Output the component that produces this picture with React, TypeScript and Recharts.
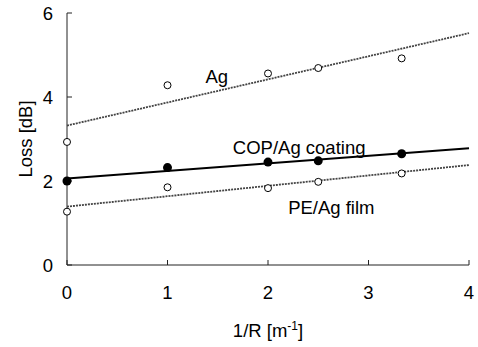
import React from 'react';
import {
  ScatterChart,
  Scatter,
  XAxis,
  YAxis,
  ReferenceDot,
  Label
} from 'recharts';

// measured points, 1/R [m^-1]
const xVals = [0, 1, 2, 2.5, 3.33];
const agLoss = [2.93, 4.28, 4.56, 4.69, 4.92];
const copLoss = [2.0, 2.32, 2.45, 2.48, 2.65];
const peLoss = [1.27, 1.85, 1.83, 1.98, 2.18];

// fitted lines (end points)
const fitX = [0, 4];
const agFit = [3.32, 5.52];
const copFit = [2.06, 2.78];
const peFit = [1.39, 2.38];

const xTicks = [0, 1, 2, 3, 4];
const yTicks = [0, 2, 4, 6];

const toPts = (xs: number[], ys: number[]) => xs.map((x, i) => ({ x, y: ys[i] }));

const FONT = 'Liberation Sans, Arial, sans-serif';
const AXIS = '#222';
const FS = 18.5;

const OpenDot = (props: any) => (
  <circle cx={props.cx} cy={props.cy} r={3.5} fill="#fff" stroke="#000" strokeWidth={1} />
);
const FilledDot = (props: any) => (
  <circle cx={props.cx} cy={props.cy} r={4.5} fill="#000" stroke="none" />
);
const NoDot = () => <g />;

const XTitle = (props: any) => {
  const { viewBox } = props;
  const cx = viewBox.x + viewBox.width / 2;
  return (
    <text x={cx} y={337} textAnchor="middle" fontFamily={FONT} fontSize={FS} fill="#000">
      1/R [m<tspan dy={-7} fontSize={12}>-1</tspan><tspan dy={7}>]</tspan>
    </text>
  );
};

const fitStyle = { stroke: '#444', strokeWidth: 1.8, strokeDasharray: '2 1' };

export default function App() {
  const tickStyle = { fontFamily: FONT, fontSize: FS, fill: '#000' };
  const noteStyle = { fontFamily: FONT, fontSize: FS, fill: '#000' };
  return (
    <div style={{ position: 'absolute', left: 0, top: 0, background: '#fff' }}>
      <ScatterChart width={478} height={347} margin={{ top: 13, right: 9, bottom: 0, left: 0 }}>
        <XAxis
          xAxisId="b"
          type="number"
          dataKey="x"
          domain={[0, 4]}
          ticks={xTicks}
          height={82}
          tickSize={-5}
          tickMargin={26}
          tick={tickStyle}
          stroke={AXIS}
        >
          <Label content={<XTitle />} />
        </XAxis>
        <XAxis
          xAxisId="t"
          orientation="top"
          type="number"
          dataKey="x"
          domain={[0, 4]}
          ticks={[1, 2, 3]}
          height={0}
          tickSize={-5}
          tickFormatter={() => ''}
          stroke={AXIS}
        />
        <YAxis
          yAxisId="l"
          type="number"
          dataKey="y"
          domain={[0, 6]}
          ticks={yTicks}
          width={67}
          tickSize={-5}
          tickMargin={19}
          tick={tickStyle}
          stroke={AXIS}
        >
          <Label
            value="Loss [dB]"
            angle={-90}
            position="insideLeft"
            offset={25}
            style={{ textAnchor: 'middle', fontFamily: FONT, fontSize: FS, fill: '#000' }}
          />
        </YAxis>
        <YAxis
          yAxisId="r"
          orientation="right"
          type="number"
          dataKey="y"
          domain={[0, 6]}
          ticks={[2, 4]}
          width={0}
          tickSize={-5}
          tickFormatter={() => ''}
          stroke={AXIS}
        />

        <Scatter xAxisId="b" yAxisId="l" data={toPts(fitX, agFit)} line={fitStyle} shape={NoDot} isAnimationActive={false} />
        <Scatter xAxisId="b" yAxisId="l" data={toPts(fitX, peFit)} line={fitStyle} shape={NoDot} isAnimationActive={false} />
        <Scatter xAxisId="b" yAxisId="l" data={toPts(fitX, copFit)} line={{ stroke: '#000', strokeWidth: 2 }} shape={NoDot} isAnimationActive={false} />

        <Scatter xAxisId="b" yAxisId="l" data={toPts(xVals, agLoss)} shape={OpenDot} isAnimationActive={false} />
        <Scatter xAxisId="b" yAxisId="l" data={toPts(xVals, peLoss)} shape={OpenDot} isAnimationActive={false} />
        <Scatter xAxisId="b" yAxisId="l" data={toPts(xVals, copLoss)} shape={FilledDot} isAnimationActive={false} />

        <ReferenceDot xAxisId="b" yAxisId="l" x={1.49} y={4.48} r={0} stroke="none"
          label={{ value: 'Ag', position: 'center', style: noteStyle }} />
        <ReferenceDot xAxisId="b" yAxisId="l" x={2.31} y={2.81} r={0} stroke="none"
          label={{ value: 'COP/Ag coating', position: 'center', style: noteStyle }} />
        <ReferenceDot xAxisId="b" yAxisId="l" x={2.63} y={1.36} r={0} stroke="none"
          label={{ value: 'PE/Ag film', position: 'center', style: noteStyle }} />
      </ScatterChart>
    </div>
  );
}
